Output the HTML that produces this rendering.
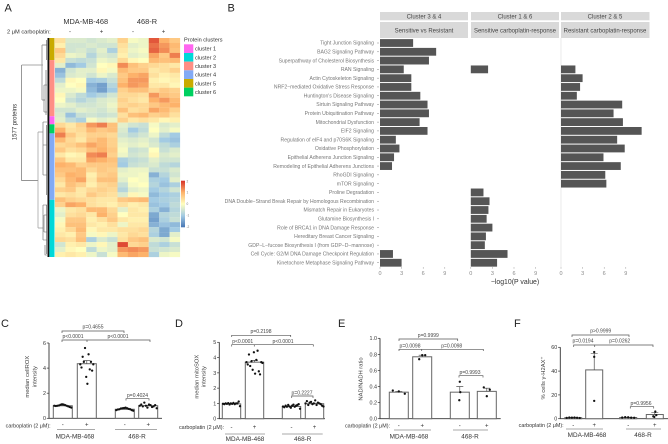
<!DOCTYPE html>
<html lang="en">
<head>
<meta charset="utf-8">
<title>Proteomic analysis of MDA-MB-468 and 468-R cells</title>
<style>
html,body{margin:0;padding:0;background:#fff;width:668px;height:444px;overflow:hidden}
svg{display:block}
text{font-family:"Liberation Sans","DejaVu Sans",sans-serif}
.letter{font-size:11px;fill:#222}
.p{font-size:5px;fill:#444;text-anchor:middle}
.br{fill:none;stroke:#555;stroke-width:.7}
.mini{font-size:5.4px;fill:#333}
.grp{font-size:6.4px;fill:#333;text-anchor:middle}
.ytitle{font-size:5.8px;fill:#444;text-anchor:middle}
.sep{stroke:#555;stroke-width:.6}
.strip{fill:#d9d9d9}
.strip-text{font-size:6px;fill:#444;text-anchor:middle}
</style>
</head>
<body>
<svg id="fig" xmlns="http://www.w3.org/2000/svg" width="668" height="444" viewBox="0 0 668 444">
<defs>
<linearGradient id="heat-gradient" x1="0" y1="0" x2="0" y2="1">
<stop offset="0" stop-color="#d73027"/><stop offset=".25" stop-color="#fdb26a"/><stop offset=".5" stop-color="#ffffbf"/><stop offset=".75" stop-color="#a3cbe3"/><stop offset="1" stop-color="#4575b4"/>
</linearGradient>
</defs>

<!-- Panel A static -->
<text class="letter" x="4.5" y="11.5">A</text>
<text x="85.7" y="24" font-size="7.4" fill="#333" text-anchor="middle">MDA-MB-468</text>
<text x="147" y="24" font-size="7.4" fill="#333" text-anchor="middle">468-R</text>
<text x="7" y="33.5" font-size="5.7" fill="#333">2 μM carboplatin:</text>
<text x="70" y="33.5" font-size="6" fill="#333" text-anchor="middle">-</text>
<text x="101.5" y="33.5" font-size="6" fill="#333" text-anchor="middle">+</text>
<text x="133" y="33.5" font-size="6" fill="#333" text-anchor="middle">-</text>
<text x="163.5" y="33.5" font-size="6" fill="#333" text-anchor="middle">+</text>
<text transform="translate(16.5,122) rotate(-90)" font-size="6" fill="#333" text-anchor="middle">1577 proteins</text>

<g id="heatmap"></g>
<g id="cluster-bar"></g>

<g fill="none">
<path d="M21.7 65V180.7M21.7 65H43M21.7 180.7H38" stroke="#555" stroke-width=".6"/>
<path d="M38 132V228M38 132H43M38 228H43" stroke="#999" stroke-width=".7"/>
<path d="M42 45V100M42 45H47M42 100H45" stroke="#999" stroke-width=".9"/>
<path d="M44 85V112M44 85H47M44 112H47M43 122V145M43 122H47M43 145H47M43 145V175M43 175H47M43 205V240M43 205H47M43 240H47M44 215V232M44 215H47M44 232H47M45 245V255H47" stroke="#666" stroke-width=".6"/>
<path d="M46.5 40V60M46 70V115M46.5 125V195M46.5 205V254" stroke="#555" stroke-width=".6"/>
<path d="M48.4 38V257" stroke="#111" stroke-width="1.8"/>
</g>

<text x="184" y="41.7" font-size="5.6" fill="#333">Protein clusters</text>
<g id="legend"></g>
<rect x="181" y="180.7" width="4" height="46.6" fill="url(#heat-gradient)"/>
<g font-size="3.2" fill="#777">
<text x="186.5" y="182.5">2</text>
<text x="186.5" y="193.5">1</text>
<text x="186.5" y="205">0</text>
<text x="186.5" y="216.5">-1</text>
<text x="186.5" y="228">-2</text>
</g>

<!-- Panel B static -->
<text class="letter" x="227.5" y="11.5">B</text>
<rect class="strip" x="380" y="12" width="88" height="8.3"/>
<rect class="strip" x="471" y="12" width="88" height="8.3"/>
<rect class="strip" x="561" y="12" width="88.5" height="8.3"/>
<rect class="strip" x="380" y="22" width="88" height="16"/>
<rect class="strip" x="471" y="22" width="88" height="16"/>
<rect class="strip" x="561" y="22" width="88.5" height="16"/>
<text class="strip-text" x="424" y="18.4">Cluster 3 &amp; 4</text>
<text class="strip-text" x="515" y="18.4">Cluster 1 &amp; 6</text>
<text class="strip-text" x="605" y="18.4">Cluster 2 &amp; 5</text>
<text class="strip-text" x="424" y="32.7">Sensitive vs Resistant</text>
<text class="strip-text" x="515" y="32.7">Sensitive carboplatin-response</text>
<text class="strip-text" x="605" y="32.7">Resistant carboplatin-response</text>
<line x1="561" y1="38" x2="561" y2="267" stroke="#ddd" stroke-width=".6"/>
<g id="pathways"></g>
<text x="515" y="284" font-size="6.9" fill="#333" text-anchor="middle">−log10(P value)</text>

<!-- Panel C static -->
<text class="letter" x="1" y="327">C</text>
<g>
<path class="br" d="M62 333V331H124V333"/>
<path class="br" d="M62 342V340H150V342M87 340V342"/>
<path class="br" d="M126 400.5V398.7H149V400.5"/>
<text class="p" x="93" y="328.5">p=0.4655</text>
<text class="p" x="73" y="338">p&lt;0.0001</text>
<text class="p" x="118" y="338">p&lt;0.0001</text>
<text class="p" x="137.5" y="397">p=0.4024</text>
<text class="mini" x="50.7" y="427.5" text-anchor="end">carboplatin (2 μM):</text>
<line class="sep" x1="57" y1="429.5" x2="95" y2="429.5"/>
<line class="sep" x1="115" y1="429.5" x2="157" y2="429.5"/>
<text class="grp" x="75" y="438.5">MDA-MB-468</text>
<text class="grp" x="137" y="438.5">468-R</text>
<text class="ytitle" transform="translate(29,376.7) rotate(-90)">median cellROX</text>
<text class="ytitle" transform="translate(36.5,376.7) rotate(-90)">intensity</text>
</g>

<!-- Panel D static -->
<text class="letter" x="175" y="327">D</text>
<g>
<path class="br" d="M231.7 337V335.3H290.7V337"/>
<path class="br" d="M231.7 346.5V344.7H313.3V346.5M254.3 344.7V346.5"/>
<path class="br" d="M291.7 398V396H313V398"/>
<text class="p" x="261" y="333">p=0.2198</text>
<text class="p" x="242.7" y="343">p&lt;0.0001</text>
<text class="p" x="283" y="343">p&lt;0.0001</text>
<text class="p" x="302" y="394.5">p=0.2227</text>
<text class="mini" x="224" y="429" text-anchor="end">carboplatin (2 μM):</text>
<line class="sep" x1="225" y1="434" x2="265" y2="434"/>
<line class="sep" x1="282" y1="434" x2="322.7" y2="434"/>
<text class="grp" x="245" y="441">MDA-MB-468</text>
<text class="grp" x="302.7" y="441">468-R</text>
<text class="ytitle" transform="translate(198.5,376.7) rotate(-90)">median mitoSOX</text>
<text class="ytitle" transform="translate(205.5,376.7) rotate(-90)">intensity</text>
</g>

<!-- Panel E static -->
<text class="letter" x="338" y="327">E</text>
<g>
<path class="br" d="M399 341V339H457.7V341"/>
<path class="br" d="M399 351V349.3H483.3V351M421.7 349.3V351"/>
<path class="br" d="M459 377.5V375.7H483V377.5"/>
<text class="p" x="428.3" y="337">p=0.9999</text>
<text class="p" x="410" y="347.5">p=0.0098</text>
<text class="p" x="451.7" y="347.5">p=0.0098</text>
<text class="p" x="470" y="374">p=0.9993</text>
<text class="mini" x="390" y="427.5" text-anchor="end">carboplatin (2 μM):</text>
<line class="sep" x1="394" y1="430" x2="431" y2="430"/>
<line class="sep" x1="453" y1="430" x2="488" y2="430"/>
<text class="grp" x="409" y="438.5">MDA-MB-468</text>
<text class="grp" x="470" y="438.5">468-R</text>
<text class="ytitle" transform="translate(362.5,379) rotate(-90)">NAD/NADH ratio</text>
</g>

<!-- Panel F static -->
<text class="letter" x="514" y="327">F</text>
<g>
<path class="br" d="M572 337V335H629V337"/>
<path class="br" d="M573.7 347V345H653V347M594.7 345V347"/>
<path class="br" d="M630.3 408.5V406.7H653.7V408.5"/>
<text class="p" x="600.7" y="332.5">p&gt;0.9999</text>
<text class="p" x="583" y="342.5">p=0.0194</text>
<text class="p" x="619.7" y="342.5">p=0.0262</text>
<text class="p" x="641" y="405">p=0.9956</text>
<text class="mini" x="563.7" y="427" text-anchor="end">carboplatin (2 μM):</text>
<line class="sep" x1="566" y1="429" x2="603" y2="429"/>
<line class="sep" x1="626" y1="429" x2="661" y2="429"/>
<text class="grp" x="587" y="437">MDA-MB-468</text>
<text class="grp" x="643" y="437">468-R</text>
<text class="ytitle" transform="translate(545,378) rotate(-90)">% cells γ-H2AX⁺</text>
</g>

<g id="bars-c"></g>
<g id="bars-d"></g>
<g id="bars-e"></g>
<g id="bars-f"></g>
</svg>

<script>
/* ---------- Panel A data ---------- */
const heatRows = [
[.4,-.4,-.4,-.5,-.4,-.3,.6,-.1,-.2,1.7,1.0,.7],
[.2,-.5,-.5,-.4,-.5,-.5,.4,-.3,-.2,1.5,1.2,.9],
[.7,-.5,-.4,-.6,-.3,-.9,.3,-.2,-.1,1.6,1.3,.8],
[.5,-.2,-.3,-.8,-.4,-.5,.2,-.3,-.2,1.1,.7,1.4],
[.3,-.6,-.7,-.6,-.2,-.3,.5,.1,0,.9,.8,.9],
[-.3,-1.2,-1.0,-.5,0,.1,1.3,.8,.6,.5,.4,.3],
[-1.3,-.5,-.3,-.3,.1,-.1,.9,.7,.7,.3,.4,.6],
[-1.1,-.4,-.3,-.5,-.2,-.4,.7,1.0,1.1,.4,.2,.3],
[-.7,.1,0,-1.0,-.9,-.6,.8,1.2,1.2,.2,.1,.2],
[-.3,0,.1,-1.3,-1.5,-.8,1.0,1.2,1.1,.3,.3,.1],
[-.2,-.2,-.1,-1.2,-1.5,-1.0,.6,.8,.8,.5,.7,.6],
[.1,-.4,-.7,-1.0,-.8,-.5,.5,.5,.4,1.2,.8,.7],
[0,-.6,-.8,-.6,-.4,-.3,.6,.4,.3,1.0,1.2,.9],
[-.2,-.3,-.5,-.5,-.4,-.2,.5,.6,.5,.7,.9,1.0],
[-.5,-.5,-.3,-.4,-.5,-.3,.8,.4,.5,1.1,.9,.6],
[-.4,-1.1,-.6,-.5,-.6,-.5,.4,.8,.9,.6,.7,.4],
[-.3,-.7,-.9,-.1,-.3,-.2,.6,.3,.4,.3,.1,.2],
[.5,.3,.6,1.2,1.4,.8,-.3,-.5,-.6,-.1,-.4,-.3],
[1.0,.4,.5,.9,.7,.8,-.4,-1.0,-.7,0,-.3,-.1],
[1.4,.7,.4,.6,.6,.5,-.5,-.7,-.5,-.2,-.7,-1.0],
[.9,.5,.3,.7,.9,.6,-.3,-.4,-.3,-.5,-1.0,-1.1],
[.5,.6,.8,1.1,.9,.6,-.2,-.3,-.2,-.4,-.7,-.9],
[.7,.4,.5,.8,1.0,.7,-.1,-.6,-.5,0,-.6,-.4],
[.3,.1,.2,1.3,1.4,.6,-.2,-.5,-.4,.1,-.4,-.3],
[.7,.3,.3,1.1,1.0,.8,-.9,-.7,-.6,-.3,-.5,-.5],
[1.0,.9,.6,.7,.7,.7,-1.0,-.6,-.5,-.4,-.7,-.8],
[.8,.8,.9,.5,.7,.6,-.3,-.2,-.2,-.6,-.6,-.4],
[.7,1.0,.9,.2,.6,.7,-.2,-.2,-.1,-1.3,-.8,-.5],
[.5,.9,1.1,.3,.8,.8,-.3,0,-.1,-.9,-1.0,-.3],
[.3,.8,.6,.2,.5,.6,-.6,-.1,0,-.8,-1.1,-.9],
[.6,.7,.3,.5,.6,.5,-.8,-.3,-.2,-1.0,-.8,-.5],
[.3,.4,.3,.7,.5,.4,-.4,.1,-.1,-1.2,-1.0,-.9],
[.8,.6,.5,.4,.3,.3,.7,.8,.9,-1.0,-.9,-.8],
[.6,1.1,1.0,.4,.3,.2,.4,.2,.3,-1.1,-1.0,-.7],
[-.2,.3,.4,.9,.9,.5,-.3,.3,.2,-.9,-1.3,-.8],
[-.3,.4,.5,.3,1.0,.6,0,.3,.3,-1.4,-.8,-.7],
[-.1,.7,.7,.2,.4,.7,.3,.2,.2,-1.5,-.9,-.6],
[.1,.8,.8,.3,.2,.4,-.2,.3,.3,-1.3,-1.1,-1.2],
[.2,.5,.9,.1,.3,.3,.4,.4,.5,-.8,-1.4,-1.0],
[.3,.2,.7,-.1,.1,-.2,.3,.5,.4,-.9,-1.4,-.3],
[.5,.4,.8,-.9,-.4,-.6,.4,.7,.8,-.4,-.5,-.1],
[-.5,.2,.3,-.2,.1,-.3,1.8,.5,.6,-.7,-.9,-.6],
[-.3,.1,0,-.7,-.2,-.3,1.2,1.3,1.2,-.6,-.5,-.4],
[.2,.3,.2,-.2,-.6,-.1,.9,1.1,1.0,-.9,-.2,-.1]
];
const clusterOrder = ['cluster 5','cluster 3','cluster 1','cluster 6','cluster 4','cluster 2'];
const clusterProteinCounts = [158,402,58,65,475,410];
const legendClusters = ['cluster 1','cluster 2','cluster 3','cluster 4','cluster 5','cluster 6'];
const legendColors = ['#ff66f0','#00d8d8','#ff8f85','#82aaf5','#c9ab00','#00d060'];

/* ---------- Panel B data ---------- */
const pathways = ['Tight Junction Signaling','BAG2 Signaling Pathway','Superpathway of Cholesterol Biosynthesis','RAN Signaling','Actin Cytoskeleton Signaling','NRF2−mediated Oxidative Stress Response',"Huntington's Disease Signaling",'Sirtuin Signaling Pathway','Protein Ubiquitination Pathway','Mitochondrial Dysfunction','EIF2 Signaling','Regulation of eIF4 and p70S6K Signaling','Oxidative Phosphorylation','Epithelial Adherens Junction Signaling','Remodeling of Epithelial Adherens Junctions','RhoGDI Signaling','mTOR Signaling','Proline Degradation','DNA Double−Strand Break Repair by Homologous Recombination','Mismatch Repair in Eukaryotes','Glutamine Biosynthesis I','Role of BRCA1 in DNA Damage Response','Hereditary Breast Cancer Signaling','GDP−L−fucose Biosynthesis I (from GDP−D−mannose)','Cell Cycle: G2/M DNA Damage Checkpoint Regulation','Kinetochore Metaphase Signaling Pathway'];
const sensitiveVsResistant = [4.6,7.8,6.8,3.3,4.35,4.35,5.6,6.6,6.8,5.5,6.6,2.2,2.7,1.95,1.67,0,0,0,0,0,0,0,0,0,1.8,3.0];
const sensitiveResponse = [0,0,0,2.4,0,0,0,0,0,0,0,0,0,0,0,0,0,1.76,2.6,2.45,2.2,3.0,2.1,1.95,5.1,3.65];
const resistantResponse = [0,0,0,2.0,3.0,2.65,2.2,8.5,7.3,8.6,11.2,7.8,8.85,5.9,8.3,6.15,6.3,0,0,0,0,0,0,0,0,0];
const pathwayTicks = [0,3,6,9];

/* ---------- Panels C–F data ---------- */
const treatmentLabels = ['-','+','-','+'];

const cMeans = [1.0,4.35,.72,1.0];
const cErrors = [.03,.25,.03,.04];
const cPoints = [
 [1.0,.98,1.0,1.02,1.08,1.12,1.1,1.05,1.0,.95,.9,.85],
 [4.3,4.05,4.9,4.5,5.6,3.3,2.75,5.1,3.9,4.5,3.8,4.3],
 [.65,.7,.72,.78,.8,.82,.85,.8,.75,.72,.65,.6],
 [1.0,1.1,.95,1.25,1.0,.85,1.1,1.05,.9,.95,1.05,.8]
];
const cTicks = [0,2,4,6];

const dMeans = [.97,3.7,.8,.98];
const dErrors = [.03,.12,.03,.04];
const dPoints = [
 [.98,.95,1.0,.97,1.02,.93,1.0,.97,1.03,.95,1.0,1.0,1.12,.82],
 [3.7,3.55,4.2,3.45,3.75,3.2,4.35,2.95,3.85,4.45,3.1,2.9,3.7,3.65],
 [.8,.75,.85,.78,.9,.8,.72,.85,.92,.78,.85,.9,.95,.65],
 [1.0,1.15,.9,1.05,1.1,.95,1.0,1.2,.9,1.05,1.0,.95,.85,.8]
];
const dTicks = [0,1,2,3,4,5];

const eMeans = [.33,.77,.33,.34];
const eErrors = [.01,.02,.07,.04];
const ePoints = [
 [.35,.34,.31],
 [.74,.79,.79],
 [.23,.46,.33],
 [.39,.28,.36]
];
const eTicks = [0,.2,.4,.6,.8,1];

const fMeans = [.8,41,1,3.5];
const fErrors = [.15,14,.12,1.5];
const fPoints = [
 [.7,1,.9,1,.8,.6],
 [15,52,56],
 [1,1.3,1.2,.9,.8],
 [2,1.5,6,3]
];
const fTicks = [0,20,40,60];

/* ---------- helpers ---------- */
const NS = 'http://www.w3.org/2000/svg';
function make(tag, attrs, parent) {
  const el = document.createElementNS(NS, tag);
  for (const k in attrs) el.setAttribute(k, attrs[k]);
  parent.appendChild(el);
  return el;
}
function hex(c) { return [1,3,5].map(i => parseInt(c.substr(i,2),16)); }
const colorStops = ['#4575b4','#a3cbe3','#ffffbf','#fdb26a','#d73027'].map(hex);
function heatColor(v) {
  const t = Math.max(0, Math.min(3.999, v + 2));
  const i = Math.floor(t), f = t - i;
  const a = colorStops[i], b = colorStops[i+1];
  return 'rgb(' + a.map((c,j) => Math.round(c + (b[j]-c)*f)).join(',') + ')';
}

/* ---------- Panel A ---------- */
(function () {
  const g = document.getElementById('heatmap');
  const left = 55, top = 38, w = 125, h = 219;
  const cw = w / heatRows[0].length, rh = h / heatRows.length;
  heatRows.forEach((row, r) => row.forEach((v, c) => {
    const cell = make('rect', {x: left + c*cw, y: top + r*rh, width: cw + .1, height: rh + .1, fill: heatColor(v)}, g);
    
    
  }));

  const bar = document.getElementById('cluster-bar');
  const total = clusterProteinCounts.reduce((a,b) => a+b, 0);
  let y = top;
  clusterOrder.forEach((name, i) => {
    const segH = clusterProteinCounts[i] / total * h;
    const seg = make('rect', {x: 49.3, y: y, width: 5.2, height: segH, fill: legendColors[legendClusters.indexOf(name)]}, bar);
    
    
    y += segH;
  });

  const lg = document.getElementById('legend');
  legendClusters.forEach((name, i) => {
    const sw = make('rect', {x: 184, y: 44.3 + i*8.67, width: 9.3, height: 8.67, fill: legendColors[i]}, lg);
    
    
    const t = make('text', {x: 195, y: 50.6 + i*8.67, 'font-size': 5.6, fill: '#333'}, lg);
    
    
    t.textContent = name;
  });
})();

/* ---------- Panel B ---------- */
(function () {
  const g = document.getElementById('pathways');
  const rowY = i => 43 + i * 8.79;
  pathways.forEach((name, i) => {
    const t = make('text', {x: 374, y: rowY(i) + 1.7, 'font-size': 5.1, fill: '#777', 'text-anchor': 'end'}, g);
    
    
    t.textContent = name;
    const tick = make('line', {x1: 377, x2: 379, y1: rowY(i), y2: rowY(i), stroke: '#888', 'stroke-width': .5}, g);
    
    
  });
  const facets = [[380, sensitiveVsResistant], [470.8, sensitiveResponse], [561, resistantResponse]];
  const xScale = (origin, v) => origin + v * 7.2;
  facets.forEach(([origin, values]) => {
    values.forEach((v, i) => {
      if (!v) return;
      const b = make('rect', {x: xScale(origin, 0), y: rowY(i) - 3.9, width: xScale(origin, v) - origin, height: 7.8, fill: '#555'}, g);
      
      
    });
    pathwayTicks.forEach(tv => {
      const tk = make('line', {x1: xScale(origin, tv), x2: xScale(origin, tv), y1: 267, y2: 268.8, stroke: '#999', 'stroke-width': .5}, g);
      
      
      const lb = make('text', {x: xScale(origin, tv), y: 275, 'font-size': 5.5, fill: '#888', 'text-anchor': 'middle'}, g);
      
      
      lb.textContent = tv;
    });
  });
})();

/* ---------- Panels C–F ---------- */
function renderPanel(id, means, errors, points, ticks, layout) {
  const g = document.getElementById(id);
  const y = v => layout.y0 - (v / layout.max) * (layout.y0 - layout.yTop);
  const tickFmt = layout.tickFmt || (v => v);

  const axis = make('path', {d: 'M' + layout.x0 + ' ' + y(layout.max) + 'V' + y(0) + 'H' + layout.xEnd, fill: 'none', stroke: '#333', 'stroke-width': .9}, g);
  
  

  ticks.forEach(tv => {
    const tk = make('line', {x1: layout.x0 - 2.2, x2: layout.x0, y1: y(tv), y2: y(tv), stroke: '#333', 'stroke-width': .7}, g);
    
    
    const lb = make('text', {x: layout.x0 - 3, y: y(tv) + 1.9, 'font-size': 5.4, fill: '#333', 'text-anchor': 'end'}, g);
    
    
    lb.textContent = tickFmt(tv);
  });

  means.forEach((m, i) => {
    const left = layout.lefts[i], cx = left + layout.barW / 2;
    const bar = make('rect', {x: left, y: y(m), width: layout.barW, height: y(0) - y(m), fill: '#fff', stroke: '#666', 'stroke-width': 1}, g);
    
    

    const err = make('path', {d: 'M' + cx + ' ' + y(m) + 'V' + y(m + errors[i]) + 'M' + (cx - 3.5) + ' ' + y(m + errors[i]) + 'H' + (cx + 3.5), stroke: '#333', 'stroke-width': .6, fill: 'none'}, g);
    
    

    const n = points[i].length, spread = layout.spreads[i];
    points[i].forEach((v, k) => {
      const px = cx + (n > 1 ? (k / (n - 1) - .5) * spread : 0);
      const dot = make('circle', {cx: px, cy: y(v), r: layout.r, fill: '#111'}, g);
      
      
    });

    const sign = make('text', {x: cx, y: layout.signY, 'font-size': 6, fill: '#333', 'text-anchor': 'middle'}, g);
    
    
    sign.textContent = treatmentLabels[i];
  });
}
const oneDecimal = v => v.toFixed(1);
renderPanel('bars-c', cMeans, cErrors, cPoints, cTicks, {x0: 49, xEnd: 162, y0: 418.3, yTop: 343, max: 6, lefts: [53.3,77.3,115.3,138.7], barW: 19, spreads: [17,13,17,17], r: 1.15, signY: 426.5});
renderPanel('bars-d', dMeans, dErrors, dPoints, dTicks, {x0: 219.3, xEnd: 325, y0: 418.7, yTop: 342.3, max: 5, lefts: [222.3,245.3,282.3,305.3], barW: 18.4, spreads: [17,16,17,18], r: 1.15, signY: 429});
renderPanel('bars-e', eMeans, eErrors, ePoints, eTicks, {x0: 380, xEnd: 500.7, y0: 418.7, yTop: 338.3, max: 1, lefts: [389.3,412.7,450.3,477.3], barW: 19, spreads: [12,6,1,6], r: 1.15, signY: 427.5, tickFmt: oneDecimal});
renderPanel('bars-f', fMeans, fErrors, fPoints, fTicks, {x0: 560.3, xEnd: 668, y0: 418.7, yTop: 347.3, max: 60, lefts: [564.7,585.7,619.7,646.3], barW: 17, spreads: [13,0,12,3], r: 1.15, signY: 427});
</script>
</body>
</html>
